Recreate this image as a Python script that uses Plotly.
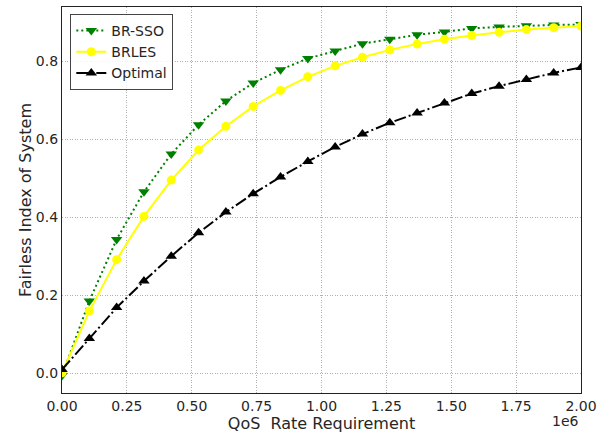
import numpy as np
import plotly.graph_objects as go

x_vals = np.linspace(0, 2e6, 20)

br_sso = [-0.005, 0.186, 0.344, 0.466, 0.563, 0.638, 0.699, 0.745, 0.779, 0.808,
          0.827, 0.846, 0.857, 0.869, 0.876, 0.885, 0.889, 0.892, 0.894, 0.895]
brles = [0.002, 0.160, 0.292, 0.403, 0.496, 0.573, 0.634, 0.685, 0.726, 0.761,
         0.789, 0.811, 0.830, 0.845, 0.857, 0.867, 0.875, 0.882, 0.887, 0.891]
optimal = [0.010, 0.090, 0.169, 0.237, 0.301, 0.361, 0.414, 0.461, 0.504, 0.544,
           0.581, 0.614, 0.643, 0.668, 0.694, 0.718, 0.737, 0.754, 0.771, 0.785]

x_tickvals = [0, 0.25e6, 0.5e6, 0.75e6, 1.0e6, 1.25e6, 1.5e6, 1.75e6, 2.0e6]
x_ticktext = ["0.00", "0.25", "0.50", "0.75", "1.00", "1.25", "1.50", "1.75", "2.00"]
y_tickvals = [0.0, 0.2, 0.4, 0.6, 0.8]
y_ticktext = ["0.0", "0.2", "0.4", "0.6", "0.8"]

FONT = "DejaVu Sans"
TXT = "#262626"

fig = go.Figure()
fig.add_trace(go.Scatter(
    x=x_vals, y=br_sso, name="BR-SSO", mode="lines+markers",
    line=dict(color="#008000", width=2, dash="2px,3px"),
    marker=dict(symbol="triangle-down", size=10, color="#008000"),
))
fig.add_trace(go.Scatter(
    x=x_vals, y=brles, name="BRLES", mode="lines+markers",
    line=dict(color="#ffff00", width=2),
    marker=dict(symbol="circle", size=9, color="#ffff00"),
))
fig.add_trace(go.Scatter(
    x=x_vals, y=optimal, name="Optimal", mode="lines+markers",
    line=dict(color="#000000", width=2, dash="12px,3px,2px,3px"),
    marker=dict(symbol="triangle-up", size=10, color="#000000"),
))

axis_common = dict(
    showline=True, linecolor="#222222", linewidth=1.2, mirror=True,
    showgrid=True, gridcolor="#b0b0b0", gridwidth=1, griddash="1px,1.5px",
    zeroline=False, ticks="", tickfont=dict(family=FONT, size=14, color=TXT),
)

fig.update_xaxes(
    range=[0, 2e6], tickmode="array", tickvals=x_tickvals, ticktext=x_ticktext,
    title=dict(text="QoS\u00a0 Rate Requirement", font=dict(family=FONT, size=16, color=TXT), standoff=2),
    **axis_common,
)
fig.update_yaxes(
    range=[-0.05, 0.94], tickmode="array", tickvals=y_tickvals, ticktext=y_ticktext,
    title=dict(text="Fairless Index of System", font=dict(family=FONT, size=16, color=TXT), standoff=0),
    **axis_common,
)

fig.add_annotation(
    text="1e6", xref="paper", yref="paper", x=1.0, y=0, xanchor="right", yanchor="top",
    yshift=-18, showarrow=False, font=dict(family=FONT, size=14, color=TXT),
)

fig.update_layout(
    width=610, height=436,
    margin=dict(l=62, r=29, t=7, b=43),
    paper_bgcolor="white", plot_bgcolor="white",
    font=dict(family=FONT, size=14, color=TXT),
    showlegend=True,
    legend=dict(
        x=0.016, y=0.982, xanchor="left", yanchor="top",
        bgcolor="rgba(255,255,255,0.85)", bordercolor="#444444", borderwidth=1,
        font=dict(family=FONT, size=14, color=TXT),
        tracegroupgap=0, itemwidth=30,
    ),
)

fig.write_html("out.html")
